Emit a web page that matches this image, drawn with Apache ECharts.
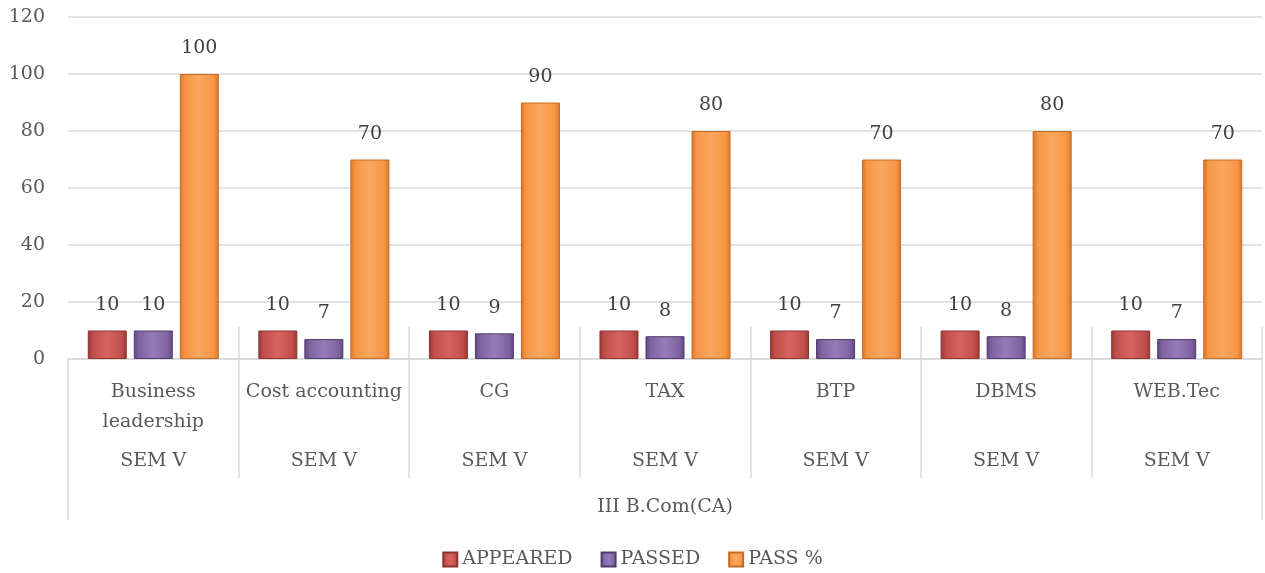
<!DOCTYPE html>
<html><head><meta charset="utf-8">
<script src="https://cdn.jsdelivr.net/npm/echarts@6/dist/echarts.min.js"></script>
<style>html,body{margin:0;padding:0;background:#fff}#c{width:1265px;height:573px}</style>
</head><body><div id="c"></div>
<script>
const subjects = ['Business\nleadership', 'Cost accounting', 'CG', 'TAX', 'BTP', 'DBMS', 'WEB.Tec'];
const semesters = ['SEM V', 'SEM V', 'SEM V', 'SEM V', 'SEM V', 'SEM V', 'SEM V'];
const groupLabel = ['III B.Com(CA)'];
const appeared = [10, 10, 10, 10, 10, 10, 10];
const passed = [10, 7, 9, 8, 7, 8, 7];
const passPct = [100, 70, 90, 80, 70, 80, 70];
const yTicks = { min: 0, max: 120, interval: 20 };

const FONT = 'DejaVu Serif';
const FS = 19;
const TXT = '#595959';
const LINE = '#d9d9d9';

function bevel(dark, base, light) {
  return {
    type: 'linear', x: 0, y: 0, x2: 1, y2: 0,
    colorStops: [
      { offset: 0, color: dark },
      { offset: 0.14, color: base },
      { offset: 0.5, color: light },
      { offset: 0.86, color: base },
      { offset: 1, color: dark }
    ]
  };
}

function barSeries(name, data, dark, base, light, border) {
  return {
    name, type: 'bar', data,
    barWidth: 39, barGap: '18%',
    itemStyle: { color: bevel(dark, base, light), borderColor: border, borderWidth: 1 },
    label: { show: true, position: 'top', distance: 16, color: '#404040', fontFamily: FONT, fontSize: FS }
  };
}

const chart = echarts.init(document.getElementById('c'), null, { renderer: 'canvas' });
chart.setOption({
  animation: false,
  textStyle: { fontFamily: FONT },
  grid: { left: 68, right: 3, top: 17, bottom: 214 },
  legend: {
    bottom: -1, left: 'center', itemGap: 28, itemWidth: 14, itemHeight: 14, icon: 'rect',
    textStyle: { color: TXT, fontFamily: FONT, fontSize: FS },
    data: ['APPEARED', 'PASSED', 'PASS %']
  },
  xAxis: [
    {
      type: 'category', data: subjects, position: 'bottom',
      axisLine: { show: true, lineStyle: { color: LINE, width: 1.5 } },
      axisTick: { show: true, length: 119, interval: 0, lineStyle: { color: LINE, width: 1.5 } },
      axisLabel: { interval: 0, margin: 18, color: TXT, fontFamily: FONT, fontSize: FS, lineHeight: 30, verticalAlign: 'top' }
    },
    {
      type: 'category', data: semesters, position: 'bottom', gridIndex: 0,
      axisLine: { show: false },
      axisTick: { show: true, inside: true, length: 32, interval: function (i) { return i !== 0; }, lineStyle: { color: LINE, width: 1.5 } },
      axisLabel: { interval: 0, margin: 93, color: TXT, fontFamily: FONT, fontSize: FS }
    },
    {
      type: 'category', data: groupLabel, position: 'bottom', gridIndex: 0,
      axisLine: { show: false },
      axisTick: { show: true, length: 161, lineStyle: { color: LINE, width: 1.5 } },
      axisLabel: { interval: 0, margin: 139, color: TXT, fontFamily: FONT, fontSize: FS }
    }
  ],
  yAxis: {
    type: 'value', min: yTicks.min, max: yTicks.max, interval: yTicks.interval,
    axisLine: { show: false }, axisTick: { show: false },
    splitLine: { lineStyle: { color: LINE, width: 1.5 } },
    axisLabel: { color: TXT, fontFamily: FONT, fontSize: FS, margin: 23 }
  },
  series: [
    barSeries('APPEARED', appeared, '#9c3835', '#c0504d', '#d9625e', '#8c3330'),
    barSeries('PASSED', passed, '#5e4880', '#8064a2', '#967bb9', '#4f3c6c'),
    barSeries('PASS %', passPct, '#d9772b', '#f79646', '#fba75f', '#c46a22')
  ]
});
</script>
</body></html>
